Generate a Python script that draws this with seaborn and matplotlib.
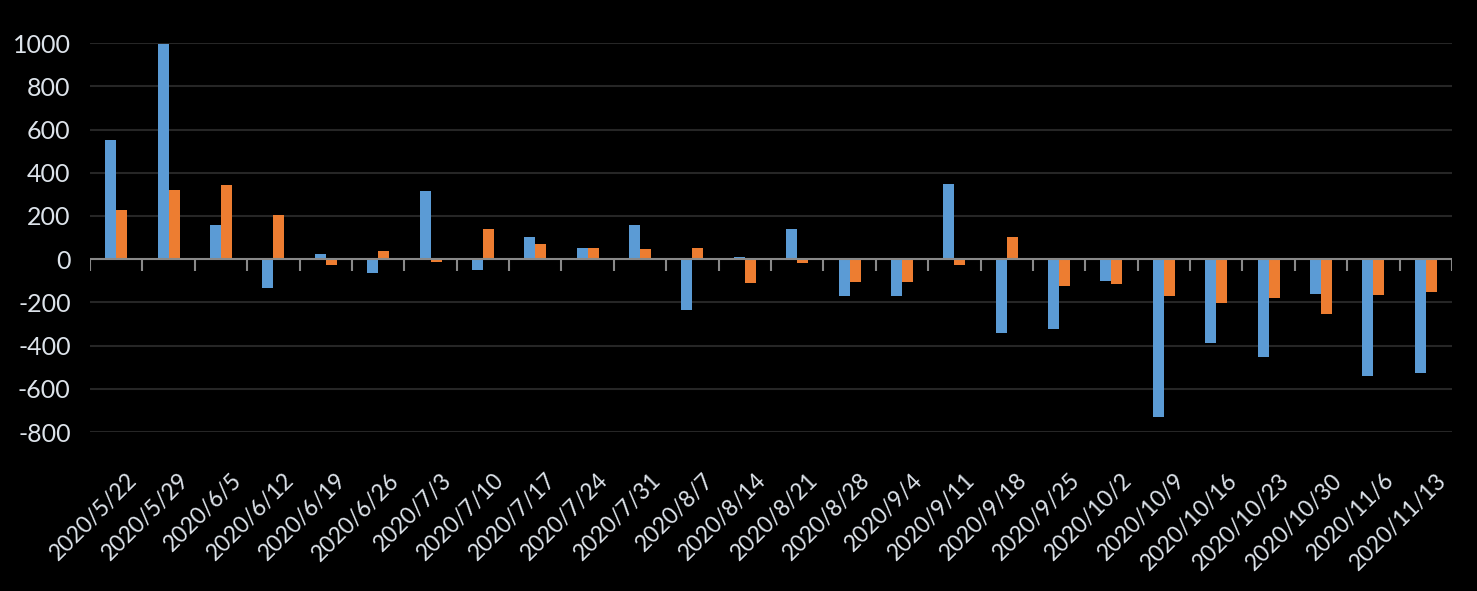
import pandas as pd
import matplotlib
matplotlib.use("Agg")
import matplotlib.pyplot as plt
import matplotlib.transforms as mtransforms
import seaborn as sns

# weekly values
dates = ["2020/5/22", "2020/5/29", "2020/6/5", "2020/6/12", "2020/6/19", "2020/6/26",
         "2020/7/3", "2020/7/10", "2020/7/17", "2020/7/24", "2020/7/31", "2020/8/7",
         "2020/8/14", "2020/8/21", "2020/8/28", "2020/9/4", "2020/9/11", "2020/9/18",
         "2020/9/25", "2020/10/2", "2020/10/9", "2020/10/16", "2020/10/23", "2020/10/30",
         "2020/11/6", "2020/11/13"]
series_a = [552, 995, 157, -135, 22, -62, 315, -48, 105, 50, 158, -234, 12, 140,
            -169, -169, 347, -340, -322, -99, -732, -388, -453, -160, -541, -527]
series_b = [226, 319, 343, 203, -25, 36, -14, 138, 68, 54, 45, 54, -109, -16,
            -104, -104, -25, 101, -122, -113, -169, -202, -178, -253, -164, -150]
yticks = list(range(-800, 1001, 200))

df = pd.DataFrame({"date": dates * 2,
                   "value": series_a + series_b,
                   "series": ["A"] * len(dates) + ["B"] * len(dates)})

sns.set_style("dark")
plt.rcParams['font.family'] = ['Lato', 'DejaVu Sans']

fig = plt.figure(figsize=(14.77, 5.91), dpi=100, facecolor="black")
ax = fig.add_axes([0.061, 0.269, 0.922, 0.658])
ax.set_facecolor("black")

sns.barplot(data=df, x="date", y="value", hue="series",
            palette={"A": "#5b9bd5", "B": "#ed7d31"},
            width=0.42, saturation=1, linewidth=0, ax=ax, legend=False, zorder=3)

ax.set_ylim(-800, 1000)
ax.set_xlim(-0.5, len(dates) - 0.5)
ax.set_yticks(yticks)
ax.set_yticklabels([str(v) for v in yticks])
ax.grid(axis="y", color="#262626", linewidth=1.5, zorder=0)
ax.grid(axis="x", visible=False)
ax.axhline(0, color="#898989", linewidth=1.5, zorder=4)
# category boundary ticks hanging under the zero line
ax.vlines([i + 0.5 for i in range(-1, len(dates))], -55, 0, color="#898989",
          linewidth=1.5, zorder=4)

for s in ax.spines.values():
    s.set_visible(False)
ax.tick_params(axis="both", length=0, colors="#dde3ea")
ax.tick_params(axis="y", pad=14, labelsize=18)
ax.tick_params(axis="x", pad=27, labelsize=16.5)
shift = mtransforms.ScaledTranslation(0.10, 0, fig.dpi_scale_trans)
for lab in ax.get_xticklabels():
    lab.set_rotation(45)
    lab.set_ha("right")
    lab.set_rotation_mode("anchor")
    lab.set_transform(lab.get_transform() + shift)
ax.set_xlabel("")
ax.set_ylabel("")

fig.savefig("out.png", dpi=100, facecolor="black")
